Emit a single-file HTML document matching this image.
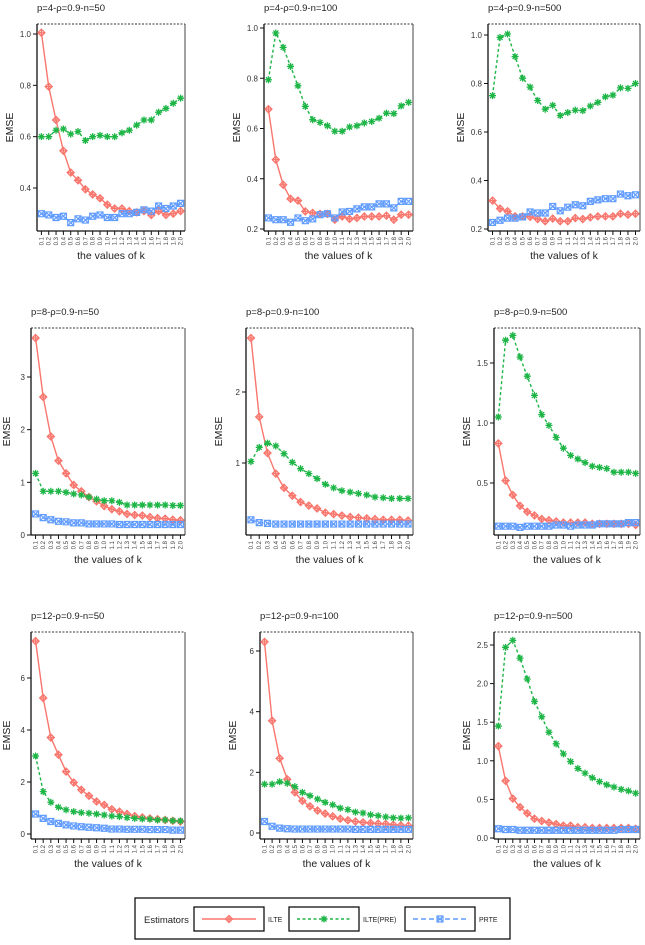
<!DOCTYPE html>
<html><head><meta charset="utf-8"><style>
html,body{margin:0;padding:0;background:#fff;}
svg{display:block;font-family:"Liberation Sans",sans-serif;}
</style></head><body>
<svg id="fig" width="645" height="945" viewBox="0 0 645 945"></svg>
<script>
const categories=["0.1","0.2","0.3","0.4","0.5","0.6","0.7","0.8","0.9","1.0","1.1","1.2","1.3","1.4","1.5","1.6","1.7","1.8","1.9","2.0"];
const seriesNames=["ILTE","ILTE(PRE)","PRTE"];
const titles=["p=4-ρ=0.9-n=50","p=4-ρ=0.9-n=100","p=4-ρ=0.9-n=500","p=8-ρ=0.9-n=50","p=8-ρ=0.9-n=100","p=8-ρ=0.9-n=500","p=12-ρ=0.9-n=50","p=12-ρ=0.9-n=100","p=12-ρ=0.9-n=500"];
const yTicks=[["0.4","0.6","0.8","1.0"],["0.2","0.4","0.6","0.8","1.0"],["0.2","0.4","0.6","0.8","1.0"],["0","1","2","3"],["1","2"],["0.5","1.0","1.5"],["0","2","4","6"],["0","2","4","6"],["0.0","0.5","1.0","1.5","2.0","2.5"]];
const ilte=[
[1.005,0.795,0.665,0.545,0.46,0.43,0.395,0.375,0.36,0.335,0.32,0.32,0.31,0.305,0.31,0.295,0.31,0.295,0.30,0.31],
[0.677,0.476,0.376,0.32,0.313,0.27,0.264,0.26,0.26,0.237,0.25,0.24,0.244,0.25,0.25,0.25,0.253,0.237,0.257,0.257],
[0.317,0.284,0.273,0.252,0.252,0.25,0.241,0.232,0.243,0.232,0.232,0.245,0.241,0.248,0.252,0.252,0.252,0.263,0.259,0.263],
[3.74,2.62,1.87,1.41,1.17,0.95,0.83,0.72,0.64,0.55,0.49,0.45,0.40,0.38,0.37,0.34,0.32,0.31,0.29,0.28],
[2.76,1.65,1.14,0.85,0.65,0.54,0.45,0.40,0.36,0.30,0.28,0.26,0.24,0.23,0.22,0.21,0.20,0.20,0.20,0.19],
[0.83,0.52,0.40,0.31,0.26,0.23,0.20,0.19,0.18,0.17,0.17,0.17,0.17,0.16,0.16,0.16,0.16,0.16,0.16,0.15],
[7.42,5.23,3.71,3.05,2.40,1.98,1.70,1.47,1.25,1.12,0.95,0.86,0.77,0.69,0.64,0.60,0.57,0.54,0.51,0.48],
[6.30,3.70,2.46,1.77,1.34,1.06,0.88,0.74,0.64,0.55,0.47,0.42,0.38,0.35,0.33,0.31,0.30,0.27,0.25,0.24],
[1.19,0.74,0.51,0.40,0.32,0.25,0.22,0.20,0.18,0.16,0.16,0.14,0.14,0.13,0.13,0.13,0.13,0.13,0.13,0.12]];
const ilteP=[
[0.60,0.60,0.625,0.63,0.61,0.62,0.585,0.60,0.605,0.60,0.60,0.615,0.625,0.645,0.665,0.665,0.695,0.71,0.73,0.75],
[0.794,0.98,0.923,0.847,0.77,0.688,0.635,0.624,0.611,0.589,0.589,0.606,0.611,0.622,0.628,0.641,0.661,0.659,0.69,0.704],
[0.75,0.99,1.004,0.911,0.822,0.785,0.73,0.694,0.71,0.668,0.68,0.69,0.688,0.707,0.722,0.745,0.752,0.782,0.78,0.80],
[1.17,0.83,0.83,0.83,0.81,0.78,0.76,0.72,0.68,0.65,0.65,0.62,0.57,0.57,0.57,0.57,0.57,0.57,0.56,0.56],
[1.02,1.22,1.28,1.24,1.13,1.01,0.92,0.85,0.78,0.70,0.65,0.61,0.59,0.57,0.55,0.52,0.51,0.50,0.50,0.50],
[1.05,1.69,1.73,1.55,1.39,1.23,1.07,0.98,0.88,0.79,0.73,0.70,0.67,0.64,0.63,0.62,0.59,0.59,0.59,0.58],
[3.0,1.63,1.22,1.03,0.93,0.86,0.82,0.80,0.77,0.73,0.69,0.67,0.63,0.60,0.58,0.57,0.54,0.54,0.51,0.50],
[1.61,1.61,1.69,1.64,1.53,1.34,1.23,1.12,1.01,0.93,0.82,0.77,0.69,0.66,0.60,0.57,0.53,0.50,0.49,0.50],
[1.45,2.47,2.56,2.33,2.06,1.77,1.57,1.37,1.22,1.09,0.99,0.90,0.84,0.78,0.73,0.69,0.66,0.63,0.61,0.58]];
const prte=[
[0.30,0.295,0.285,0.29,0.265,0.28,0.275,0.29,0.295,0.285,0.285,0.30,0.30,0.305,0.315,0.31,0.33,0.32,0.33,0.34],
[0.244,0.237,0.237,0.227,0.244,0.233,0.24,0.257,0.261,0.244,0.268,0.27,0.28,0.288,0.288,0.30,0.30,0.284,0.31,0.31],
[0.227,0.236,0.245,0.245,0.25,0.27,0.266,0.266,0.293,0.275,0.29,0.30,0.296,0.314,0.32,0.325,0.325,0.344,0.337,0.341],
[0.40,0.33,0.29,0.26,0.25,0.23,0.23,0.21,0.21,0.21,0.21,0.20,0.20,0.20,0.20,0.20,0.20,0.20,0.20,0.20],
[0.20,0.16,0.15,0.14,0.14,0.14,0.14,0.14,0.14,0.14,0.14,0.14,0.14,0.14,0.14,0.14,0.14,0.14,0.14,0.14],
[0.14,0.14,0.14,0.13,0.14,0.14,0.14,0.14,0.15,0.15,0.14,0.15,0.15,0.15,0.16,0.16,0.16,0.16,0.17,0.17],
[0.77,0.60,0.48,0.41,0.35,0.31,0.28,0.26,0.24,0.22,0.19,0.19,0.18,0.18,0.18,0.17,0.17,0.17,0.15,0.15],
[0.38,0.22,0.16,0.14,0.13,0.13,0.13,0.13,0.13,0.13,0.13,0.13,0.12,0.12,0.12,0.12,0.12,0.12,0.12,0.12],
[0.12,0.11,0.11,0.10,0.10,0.10,0.10,0.10,0.10,0.10,0.10,0.10,0.10,0.10,0.10,0.10,0.10,0.11,0.11,0.11]];

// layout (pixels, not data)
const L=[[37,185,24,231,1.0,34,0.4,188],[264,413,24,231,1.0,28,0.2,229],[488,640,24,231,1.0,35,0.2,229],
[31,185,328,535,0,535,3,377],[246,413,328,535,1,463,2,392],[494,640,328,535,0.5,483,1.0,423],
[31,185,632,839,0,834,6,678],[260,413,632,839,0,833,6,651],[494,640,632,839,0,838,2.5,645]];
const COL=["#F8766D","#1DB546","#619CFF"];
const DASH=["none","3,2.5","5,3"];
const NS="http://www.w3.org/2000/svg";
const svg=document.getElementById('fig');
function mk(tag,at,parent){const e=document.createElementNS(NS,tag);for(const k in at)e.setAttribute(k,at[k]);(parent||svg).appendChild(e);return e;}
function marker(g,s,x,y,c){
  if(s===0){mk('path',{d:`M${x},${y-3.5}L${x+3.5},${y}L${x},${y+3.5}L${x-3.5},${y}Z M${x-3.5},${y}H${x+3.5}M${x},${y-3.5}V${y+3.5}`,fill:'none',stroke:c,'stroke-width':1.3},g);}
  else if(s===1){mk('path',{d:`M${x-3.5},${y}H${x+3.5}M${x},${y-3.5}V${y+3.5}M${x-2.5},${y-2.5}L${x+2.5},${y+2.5}M${x-2.5},${y+2.5}L${x+2.5},${y-2.5}`,fill:'none',stroke:c,'stroke-width':1.3},g);}
  else {mk('path',{d:`M${x-3},${y-3}H${x+3}V${y+3}H${x-3}Z M${x-3},${y-3}L${x+3},${y+3}M${x+3},${y-3}L${x-3},${y+3}`,fill:'none',stroke:c,'stroke-width':1.2},g);}
}
for(let p=0;p<9;p++){
  const [l,r,t,b,v0,p0,v1,p1]=L[p];
  const g=mk('g',{});
  
  
  const ys=v=>p0+(v-v0)*(p1-p0)/(v1-v0);
  const xs=i=>l+(i+0.6)/20.2*(r-l);
  const tt=mk('text',{x:l,y:t-13,'font-size':9.5,fill:'#222'},g);tt.textContent=titles[p];
  
  
  mk('line',{x1:l,y1:t,x2:r,y2:t,stroke:'#333','stroke-dasharray':'2,1.5','stroke-width':1},g);
  mk('line',{x1:r,y1:t,x2:r,y2:b,stroke:'#444','stroke-width':1},g);
  mk('line',{x1:l,y1:t,x2:l,y2:b,stroke:'#111','stroke-width':1.3},g);
  mk('line',{x1:l,y1:b,x2:r,y2:b,stroke:'#111','stroke-width':1.3},g);
  yTicks[p].forEach(s=>{const y=ys(parseFloat(s));
    mk('line',{x1:l-4,y1:y,x2:l,y2:y,stroke:'#111','stroke-width':1},g);
    const tx=mk('text',{x:l-6,y:y+3,'font-size':8,'text-anchor':'end',fill:'#333'},g);tx.textContent=s;
    
    });
  categories.forEach((c,i)=>{const x=xs(i);
    mk('line',{x1:x,y1:b,x2:x,y2:b+4,stroke:'#111','stroke-width':1},g);
    const tx=mk('text',{x:0,y:0,'font-size':6,fill:'#444','text-anchor':'end',transform:`translate(${x+2},${b+6}) rotate(-90)`},g);tx.textContent=c;
    
    });
  const xl=mk('text',{x:(l+r)/2,y:b+28,'font-size':10.5,'text-anchor':'middle',fill:'#222'},g);xl.textContent='the values of k';
  
  
  const yl=mk('text',{x:0,y:0,'font-size':10.5,'text-anchor':'middle',fill:'#222',transform:`translate(${Math.max(l-24,10)},${(t+b)/2}) rotate(-90)`},g);yl.textContent='EMSE';
  
  
  [ilte[p],ilteP[p],prte[p]].forEach((vals,s)=>{
    const d=vals.map((v,i)=>(i?'L':'M')+xs(i).toFixed(1)+','+ys(v).toFixed(1)).join('');
    const pl=mk('path',{d,fill:'none',stroke:COL[s],'stroke-width':1.4,'stroke-dasharray':DASH[s]},g);
    
    
    vals.forEach((v,i)=>marker(g,s,xs(i),ys(v),COL[s]));
  });
}
// legend
const lg=mk('g',{});


mk('rect',{x:135,y:898,width:375,height:41,fill:'none',stroke:'#111','stroke-width':1.3},lg);
const et=mk('text',{x:144,y:923,'font-size':9.5,fill:'#222'},lg);et.textContent='Estimators';
const LB=[[194,268],[289,363],[405,479]];
LB.forEach(([bx,tx],s)=>{
  const e=mk('g',{},lg);
  
  
  mk('rect',{x:bx,y:907,width:70,height:24,fill:'none',stroke:'#111','stroke-width':1.3},e);
  mk('line',{x1:bx+8,y1:919,x2:bx+62,y2:919,stroke:COL[s],'stroke-width':1.4,'stroke-dasharray':DASH[s]},e);
  marker(e,s,bx+35,919,COL[s]);
  const t=mk('text',{x:tx,y:922,'font-size':7,fill:'#222'},e);t.textContent=seriesNames[s];
});
</script>
</body></html>
